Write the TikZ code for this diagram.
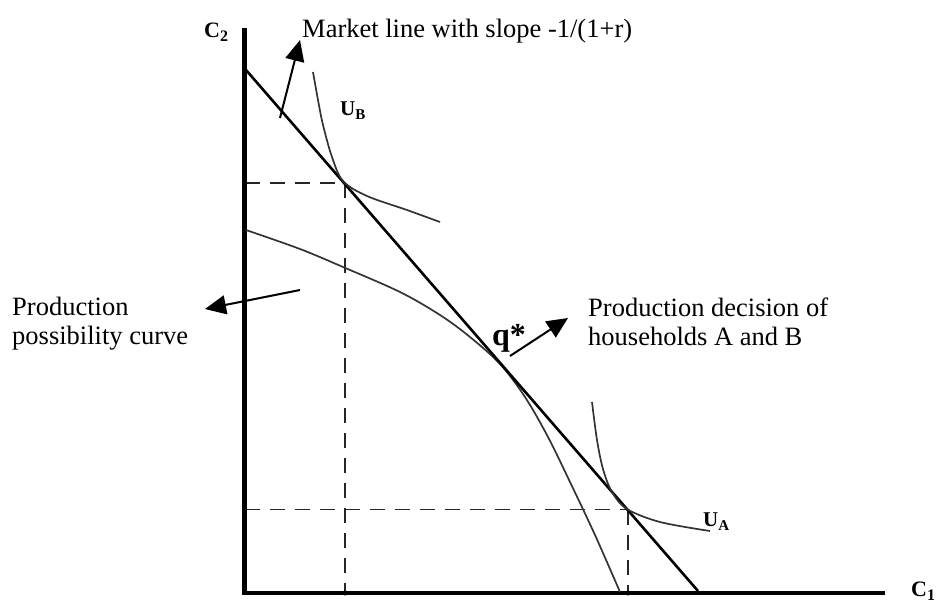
\documentclass[tikz,border=0pt]{standalone}
\usepackage{fontspec}
\setmainfont{Liberation Serif}
\usetikzlibrary{arrows.meta}
\newcommand\lowsub[2]{\raisebox{-0.22em}{\fontsize{#1}{#1}\selectfont #2}}
\tikzset{
  axisline/.style={line width=4.2pt, line cap=butt},
  mktline/.style={line width=2.6pt, black},
  curveline/.style={line width=1.7pt, black!80},
  dashline/.style={line width=1.8pt, black!85, dash pattern=on 15pt off 10pt},
  callout/.style={line width=2pt, -{Triangle[length=21pt,width=19pt]}},
  lbl/.style={inner sep=0pt, font=\fontsize{26.5}{29}\selectfont, align=left},
  axlbl/.style={inner sep=0pt, font=\fontsize{22}{26}\selectfont\bfseries},
  ulbl/.style={inner sep=0pt, font=\fontsize{21}{25}\selectfont\bfseries},
  qlbl/.style={inner sep=0pt, font=\fontsize{32}{36}\selectfont\bfseries},
  tickdot/.style={fill=black, circle, inner sep=0pt, minimum size=5pt}
}
\begin{document}
\begin{tikzpicture}[x=1pt,y=-1pt]
\useasboundingbox (0,0) rectangle (942,603);
% axes
\coordinate (O) at (244.5,593);
\coordinate (ytop) at (244.5,28);
\coordinate (xend) at (885,593);
\draw[axisline] (ytop) -- (O) -- (xend);
\node[axlbl, anchor=base west] (c2) at (204,37) {C\lowsub{16}{2}};
\node[axlbl, anchor=base west] (c1) at (911,596) {C\lowsub{16}{1}};
% dashed guides
\coordinate (B) at (343,183);
\coordinate (A) at (627,509.5);
\coordinate (yB) at (244.5,183);
\coordinate (xB) at (345,593);
\coordinate (yA) at (244.5,509.5);
\coordinate (xA) at (628,593);
\draw[dashline] (yB) -- (B);
\draw[dashline] (345,183) -- (xB);
\draw[dashline] (yA) -- (A);
\draw[dashline] (628,509.5) -- (xA);
\node[tickdot] (dyB) at (yB) {};
\node[tickdot] (dxB) at (xB) {};
\node[tickdot] (dyA) at (yA) {};
\node[tickdot] (dxA) at (xA) {};
% production possibility curve
\draw[curveline] plot[smooth, tension=0.55] coordinates {(246,230) (300,249) (343,267) (400,292) (440,315) (470,337) (500,364) (525,397) (548,437) (570,482) (595,535) (620,592)};
% market line
\coordinate (mtop) at (246,70);
\coordinate (mbot) at (698,591);
\draw[mktline] (mtop) -- (mbot);
% indifference curves
\draw[curveline] plot[smooth, tension=0.55] coordinates {(313,72) (318,100) (323,125) (332,157) (343,181) (367,196) (407,210) (440,222)};
\draw[curveline] plot[smooth, tension=0.55] coordinates {(592,402) (597,440) (603,469) (612,492) (627,509) (660,522) (710,531)};
\node[ulbl, anchor=base west] (ub) at (340,115) {U\lowsub{15}{B}};
\node[ulbl, anchor=base west] (ua) at (703,526) {U\lowsub{15}{A}};
\node[qlbl, anchor=base west] (q) at (492,345) {q*};
% labels
\node[lbl, anchor=base west] (mkt) at (302,37) {Market line with slope -1/(1+r)};
\node[lbl, anchor=north west] (ppc) at (12,297) {Production\\possibility curve};
\node[lbl, anchor=north west] (dec) at (588,298) {Production decision of\\households A and B};
% callout arrows
\coordinate (mkttail) at (280,118);
\coordinate (mkttip) at (300,40);
\coordinate (ppctail) at (300,290);
\coordinate (ppctip) at (205,309);
\coordinate (dectail) at (510,356);
\coordinate (dectip) at (568,318);
\draw[callout] (mkttail) -- (mkttip);
\draw[callout] (ppctail) -- (ppctip);
\draw[callout] (dectail) -- (dectip);
\end{tikzpicture}
\end{document}
